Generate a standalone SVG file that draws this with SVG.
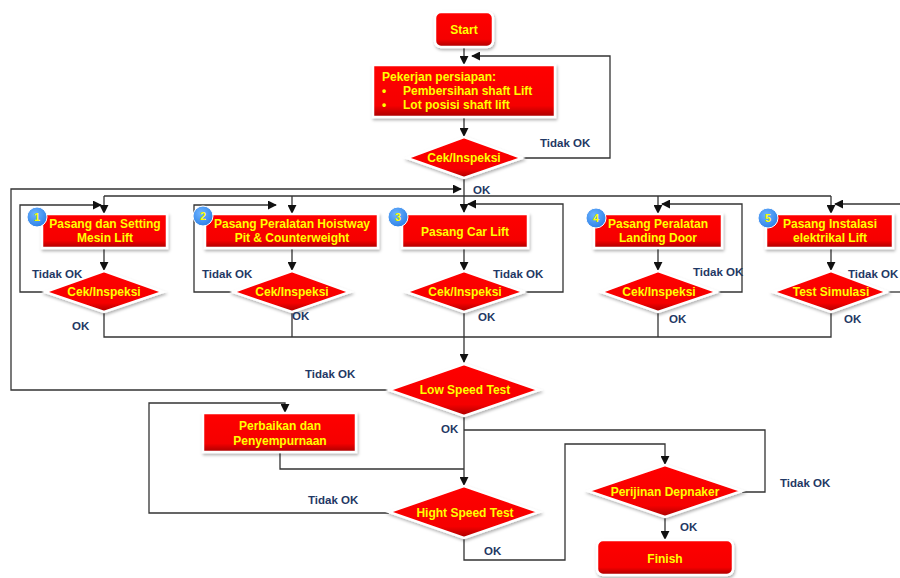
<svg xmlns="http://www.w3.org/2000/svg" width="900" height="578" viewBox="0 0 900 578">
<defs>
<linearGradient id="rg" x1="0" y1="0" x2="0" y2="1">
<stop offset="0" stop-color="#ff0000"/>
<stop offset="0.78" stop-color="#f50000"/>
<stop offset="1" stop-color="#a80000"/>
</linearGradient>
<radialGradient id="bg" cx="0.4" cy="0.35" r="0.7">
<stop offset="0" stop-color="#6fb4ff"/>
<stop offset="1" stop-color="#2a7fe6"/>
</radialGradient>
<filter id="sh" x="-20%" y="-30%" width="140%" height="170%">
<feDropShadow dx="1" dy="2" stdDeviation="1.5" flood-color="#000" flood-opacity="0.3"/>
</filter>
<marker id="ah" viewBox="0 0 10 10" refX="9" refY="5" markerWidth="9" markerHeight="9" markerUnits="userSpaceOnUse" orient="auto">
<path d="M0,0 L10,5 L0,10 z" fill="#111"/>
</marker>
</defs>
<style>
.n{fill:url(#rg);stroke:#fff;stroke-width:2.5;filter:url(#sh)}
.t{font-family:"Liberation Sans",Arial,sans-serif;font-weight:bold;font-size:12px;fill:#ffff00;text-anchor:middle}
.tl{font-family:"Liberation Sans",Arial,sans-serif;font-weight:bold;font-size:12px;fill:#ffff00}
.lb{font-family:"Liberation Sans",Arial,sans-serif;font-weight:bold;font-size:11.5px;fill:#1f3864}
.c path{fill:none;stroke:#333;stroke-width:1.3}
.b{fill:url(#bg);stroke:#fff;stroke-width:1}
.bn{font-family:"Liberation Sans",Arial,sans-serif;font-weight:bold;font-size:11px;fill:#ffff00;text-anchor:middle}
</style>
<rect width="900" height="578" fill="#fff"/>

<g id="connectors" class="c">
<path d="M464 47 V64" marker-end="url(#ah)"/>
<path d="M464 117 V136" marker-end="url(#ah)"/>
<path d="M522 158 H610 V56 H472" marker-end="url(#ah)"/>
<path d="M464 178 V212" marker-end="url(#ah)"/>
<path d="M104 196 H831"/>
<path d="M104 196 V213" marker-end="url(#ah)"/>
<path d="M292 196 V213" marker-end="url(#ah)"/>
<path d="M658 196 V213" marker-end="url(#ah)"/>
<path d="M831 196 V213" marker-end="url(#ah)"/>
<path d="M389 390 H11 V189 H461" marker-end="url(#ah)"/>
<path d="M104 248 V270" marker-end="url(#ah)"/>
<path d="M292 248 V270" marker-end="url(#ah)"/>
<path d="M464 248 V270" marker-end="url(#ah)"/>
<path d="M658 248 V270" marker-end="url(#ah)"/>
<path d="M831 248 V270" marker-end="url(#ah)"/>
<path d="M45 292 H20 V205 H101" marker-end="url(#ah)"/>
<path d="M233 292 H194 V205 H276" marker-end="url(#ah)"/>
<path d="M525 292 H563 V204 H468" marker-end="url(#ah)"/>
<path d="M717 292 H742 V204 H662" marker-end="url(#ah)"/>
<path d="M887 292 H902"/>
<path d="M902 204 H835" marker-end="url(#ah)"/>
<path d="M104 312 V337 H831 V312"/>
<path d="M292 312 V337"/>
<path d="M658 312 V337"/>
<path d="M464 312 V362" marker-end="url(#ah)"/>
<path d="M464 416 V485" marker-end="url(#ah)"/>
<path d="M464 430 H765 V492 H742"/>
<path d="M280 452 V469 H464"/>
<path d="M389 513 H149 V403 H285 V412" marker-end="url(#ah)"/>
<path d="M464 539 V560 H565 V444 H665 V464" marker-end="url(#ah)"/>
<path d="M665 517 V539" marker-end="url(#ah)"/>
</g>

<g id="start">
<rect class="n" x="435" y="12" width="58" height="35" rx="6"/>
<text class="t" x="464" y="34">Start</text>
</g>

<g id="prep">
<rect class="n" x="373" y="65" width="182" height="52"/>
<text class="tl" x="382" y="81">Pekerjan persiapan:</text>
<text class="tl" x="382" y="95">•</text>
<text class="tl" x="403" y="95">Pembersihan shaft Lift</text>
<text class="tl" x="382" y="109">•</text>
<text class="tl" x="403" y="109">Lot posisi shaft lift</text>
</g>

<g id="cek0">
<polygon class="n" points="464,137 522,158 464,178 407,158"/>
<text class="t" x="464" y="162">Cek/Inspeksi</text>
</g>

<g id="box1">
<rect class="n" x="42" y="214" width="125" height="34"/>
<text class="t" x="105" y="228">Pasang dan Setting</text>
<text class="t" x="105" y="242">Mesin Lift</text>
<circle class="b" cx="37" cy="217" r="10"/>
<text class="bn" x="37" y="221">1</text>
</g>
<g id="cek1">
<polygon class="n" points="104,271 163,292 104,312 45,292"/>
<text class="t" x="104" y="296">Cek/Inspeksi</text>
</g>

<g id="box2">
<rect class="n" x="205" y="214" width="173" height="34"/>
<text class="t" x="292" y="228">Pasang Peralatan Hoistway</text>
<text class="t" x="292" y="242">Pit &amp; Counterweight</text>
<circle class="b" cx="203" cy="216" r="10"/>
<text class="bn" x="203" y="220">2</text>
</g>
<g id="cek2">
<polygon class="n" points="292,271 350,292 292,312 233,292"/>
<text class="t" x="292" y="296">Cek/Inspeksi</text>
</g>

<g id="box3">
<rect class="n" x="402" y="214" width="126" height="34"/>
<text class="t" x="465" y="236">Pasang Car Lift</text>
<circle class="b" cx="398" cy="217" r="10"/>
<text class="bn" x="398" y="221">3</text>
</g>
<g id="cek3">
<polygon class="n" points="464,271 524,292 464,312 406,292"/>
<text class="t" x="465" y="296">Cek/Inspeksi</text>
</g>

<g id="box4">
<rect class="n" x="594" y="214" width="128" height="34"/>
<text class="t" x="658" y="228">Pasang Peralatan</text>
<text class="t" x="658" y="242">Landing Door</text>
<circle class="b" cx="596" cy="218" r="10"/>
<text class="bn" x="596" y="222">4</text>
</g>
<g id="cek4">
<polygon class="n" points="658,271 717,292 658,312 601,292"/>
<text class="t" x="659" y="296">Cek/Inspeksi</text>
</g>

<g id="box5">
<rect class="n" x="766" y="214" width="127" height="34"/>
<text class="t" x="830" y="228">Pasang Instalasi</text>
<text class="t" x="830" y="242">elektrikal Lift</text>
<circle class="b" cx="768" cy="218" r="10"/>
<text class="bn" x="768" y="222">5</text>
</g>
<g id="sim5">
<polygon class="n" points="831,271 887,292 831,312 773,292"/>
<text class="t" x="831" y="296">Test Simulasi</text>
</g>

<g id="lowspeed">
<polygon class="n" points="464,364 539,390 464,416 389,390"/>
<text class="t" x="465" y="394">Low Speed Test</text>
</g>

<g id="perbaikan">
<rect class="n" x="203" y="413" width="153" height="39"/>
<text class="t" x="280" y="430">Perbaikan dan</text>
<text class="t" x="280" y="445">Penyempurnaan</text>
</g>

<g id="highspeed">
<polygon class="n" points="464,486 539,512 464,538 389,512"/>
<text class="t" x="465" y="517">Hight Speed Test</text>
</g>

<g id="perijinan">
<polygon class="n" points="665,465 742,491 665,517 588,491"/>
<text class="t" x="665" y="496">Perijinan Depnaker</text>
</g>

<g id="finish">
<rect class="n" x="597" y="540" width="136" height="35" rx="6"/>
<text class="t" x="665" y="563">Finish</text>
</g>

<g id="labels">
<text class="lb" x="540" y="147">Tidak OK</text>
<text class="lb" x="473" y="194">OK</text>
<text class="lb" x="32" y="278">Tidak OK</text>
<text class="lb" x="72" y="330">OK</text>
<text class="lb" x="202" y="278">Tidak OK</text>
<text class="lb" x="292" y="320">OK</text>
<text class="lb" x="493" y="278">Tidak OK</text>
<text class="lb" x="478" y="321">OK</text>
<text class="lb" x="693" y="276">Tidak OK</text>
<text class="lb" x="669" y="323">OK</text>
<text class="lb" x="848" y="278">Tidak OK</text>
<text class="lb" x="844" y="323">OK</text>
<text class="lb" x="305" y="378">Tidak OK</text>
<text class="lb" x="441" y="433">OK</text>
<text class="lb" x="308" y="504">Tidak OK</text>
<text class="lb" x="484" y="555">OK</text>
<text class="lb" x="780" y="487">Tidak OK</text>
<text class="lb" x="680" y="531">OK</text>
</g>
</svg>
